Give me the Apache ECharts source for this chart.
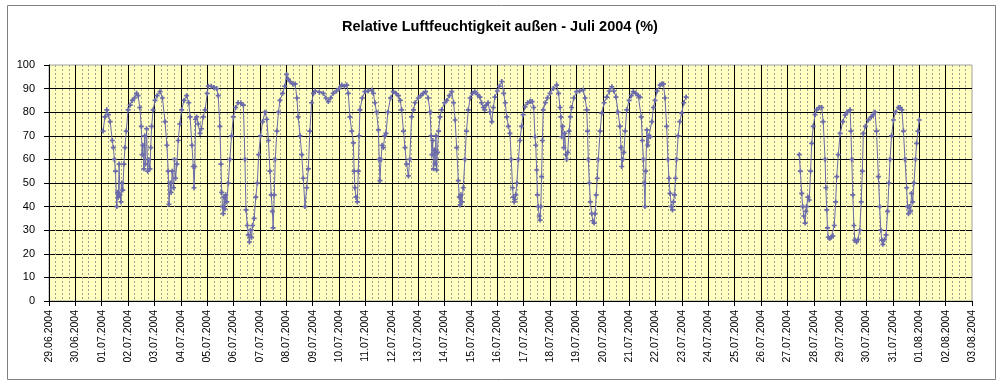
<!DOCTYPE html>
<html>
<head>
<meta charset="utf-8">
<script src="https://cdn.jsdelivr.net/npm/echarts@6/dist/echarts.min.js"></script>
<style>
html,body{margin:0;padding:0;background:#fff;}
#chart{width:1000px;height:382px;}
</style>
</head>
<body>
<div id="chart"></div>
<script>
// Hours since 29.06.2004 00:00
const hours = [
49.2,50.9,52.6,54,55.7,57.6,58.6,59.5,60.5,61.7,62.4,63.1,63.8,64.6,65.5,66.2,67.2,68.2,69.1,70.3,
72,73.9,75.8,77.8,79.7,81.1,82.6,84,84.7,85.4,86.4,87.1,87.8,88.8,89.8,90.7,91.9,92.6,93.4,94.8,
96.5,98.4,101,103.2,105.6,107.3,108.5,109.2,110.4,111.1,112.1,113.3,114.2,115.2,116.4,117.6,119,
120.7,122.9,125.3,127.2,128.4,130.1,131.3,132,132.7,133.4,134.4,135.8,137.5,138.7,140.4,142.1,
144,145,147.6,150,152.6,154,155.5,156.5,157.2,157.9,158.6,159.4,160.1,160.8,161.8,163.2,164.6,166.1,167.8,
169.9,172.1,174.5,176.9,178.3,179.3,180.5,181.4,182.4,183.4,184.3,185.3,186.7,188.2,189.6,190.8,
192.5,194.4,196.6,198.2,199.7,201.1,202.3,203.3,204,205,205.9,207.4,208.8,210.2,212.6,214.6,
216.2,217.7,219.4,221.8,224,225.6,226.8,228.5,230,231.4,233,234.5,236,237.4,239,
240.7,242.2,246,249.6,252,254.2,256.3,258.7,261.6,
264,266.4,268.8,271,272.4,273.8,275.5,277,277.7,278.4,279.4,280.6,281.5,282.2,283,285.1,287.5,
290.4,293.8,295.2,296.6,298.1,299.8,300.5,301.2,302.2,303.1,304.3,305.5,306.7,308.4,310.8,
313.4,315.8,318,319.7,320.9,322.6,324,325.4,327.1,328.3,330,331.7,333.1,
336,338.4,340.6,342.7,345.1,346.8,347.8,348.5,349.2,349.9,350.6,351.4,352.1,352.8,353.5,354.5,355.9,357.4,
360,362,364.3,366.5,368.2,369.6,371,372.5,373.4,374.2,374.9,375.8,377,378.5,379.9,381.6,383.3,
385.4,387.6,390,392.2,393.6,395.3,396.5,397.9,399.6,401.3,403,404.4,405.8,
408,409.9,412.1,413.8,415.2,416.6,418.1,419.5,420.7,421.9,422.6,423.4,424.1,424.8,425.8,427.2,428.6,430.1,431.5,
433.2,435.6,437.8,439.7,441.1,442.3,443,443.8,444.5,445.2,446.2,446.9,447.6,448.3,449,449.8,451.7,453.6,
456,458.9,462,463.7,465.1,465.8,466.6,467.5,468.5,469.4,470.4,471.1,472.1,473.3,474.5,475.7,477.6,
480.2,482.9,486.2,487.9,489.4,490.1,490.8,491.8,492.7,493.9,494.9,496.1,497,498,499,499.9,501.6,503,
505.2,507.6,510,512.2,514.1,516,517.9,519.6,520.6,521.3,522.2,523.2,524.4,525.8,
528,529.9,531.8,534,536.2,537.8,539,540,541,541.7,542.4,543.1,544.1,545,546,547.2,548.6,550.1,551.5,
553.4,556.1,557.8,559.2,560.6,562.1,563.3,564.2,565.2,566.4,567.4,568.3,569.3,570.2,571.2,572.6,574.1,575.8,
577.7,579.8,
600,
682.8,683.8,685,685.9,686.9,688.1,688.8,689.5,690.7,691.9,693.1,694.1,695.5,
697.2,698.6,700.8,703.2,704.6,706.3,707,707.8,708.5,709.2,710.4,711.8,713.3,714.7,715.9,716.9,718.3,
720,722.4,724.6,726.7,729.1,729.8,730.6,731.5,732.5,733.4,734.9,736.3,737.8,739.2,740.2,741.1,743,
745.7,748.3,750.2,751.7,753.1,754.8,756,757,757.9,758.9,760.3,761.8,763.2,764.4,765.4,766.8,
768.5,770.4,773,774.7,776.2,777.6,779,780.5,781.4,782.2,783.1,784.1,785,786,787.2,788.6,789.6,790.8,792
];
// Relative humidity (%); null marks the gap without measurements
const humidity = [
72,78,81,79,76,68,65,60,55,40,46,44,58,45,42,50,47,58,65,72,
81,83,85,86,88,87,82,74,62,66,56,70,58,73,55,60,56,65,74,81,
85,87,88.7,86,76,66,55,41,50,46,55,48,60,52,58,68,75,
81,85,87,84,78,66,57,48,57,77,78,75,71,73,78,81,
88,91,91,90.5,90,87,74,58,46,40,37,44,39,45,42,50,60,70,78,
82,84,84,83,60,38.6,32,28,25,30,27,32,35,44,50,62,
70,76,80,77,68,55,45,38,31,45,60,72,80,85,88,91,
96,94,93,92,92,86,78,70,62,52,40,48,56,72,84,
88,89,88.5,88,86,84.5,86,88,89,
90,91.5,91,91.5,88,78,72,67,55,48,44,42,55,70,81,86,88.7,
89,89.4,88,84,80,72.5,60,51,60,66,65,70,71,80,86,
88.7,88,87,85,81,72,65,58,53,60,78,81,84,
86,87,88,88.7,86,80,70,62,68,56,64,58,70,55.5,63,72,78,81,
84,85,87,88.7,84,76.7,65,51,44,40.7,45,42,48,60,72,81,86,
88,88.7,87.5,86.4,84,82,81,83,84,80,76,82,86.4,
89,91,93,88,84,78,74,71,60,48,44,42,43,45,50,60,68,74,79,
82.3,84,84.5,84.5,82,69.6,66,55.5,45,40,36,34.3,40,52.7,68,81,84,86,
88,90,91.5,88,82,78,69.6,74,65,71,62,60,63,72,78,82,86,
88.7,89,89.4,86,81,72,60,50,42,37,34,33,37,45,52,60,72,79.6,
84,86.4,89,90.8,89,86.4,80,74,65,57,60,63,72,81,
85,87,88.7,88,87,86.4,78,68,60,50,40,55,72.5,66,70,69.6,76,82,85,
89,91.5,92,92,86,74,60,52,45.6,40,38.6,42,45,52,60,70,76,79.6,
84,86.4,
null,
62,55,45.6,40,36,33,38,40,44,42.8,55,66.8,74,
79,81,82,82,76,60,48,38.6,31,27,26.5,27,27.5,32,42,52.7,62,
71,76,78.8,80,81,72,60,45,32,25.8,25,26,30,42,55,71,74,
76.7,78,79,80,72,52.7,40,30,25.8,24,26,28,38,50,60,70,
76.7,80,82,82,81,72,60,48,40,37,40,38,45.6,42,50,60,66.8,72,76.7
];
const dateLabels = [
'29.06.2004','30.06.2004','01.07.2004','02.07.2004','03.07.2004','04.07.2004','05.07.2004',
'06.07.2004','07.07.2004','08.07.2004','09.07.2004','10.07.2004','11.07.2004','12.07.2004',
'13.07.2004','14.07.2004','15.07.2004','16.07.2004','17.07.2004','18.07.2004','19.07.2004',
'20.07.2004','21.07.2004','22.07.2004','23.07.2004','24.07.2004','25.07.2004','26.07.2004',
'27.07.2004','28.07.2004','29.07.2004','30.07.2004','31.07.2004','01.08.2004','02.08.2004','03.08.2004'
];
const yTicks = [0,10,20,30,40,50,60,70,80,90,100];
const titleText = 'Relative Luftfeuchtigkeit außen - Juli 2004 (%)';

const seriesData = hours.map((h, i) => [h, humidity[i] === null ? '-' : humidity[i]]);

const chart = echarts.init(document.getElementById('chart'), null, {renderer: 'canvas'});
chart.setOption({
  animation: false,
  backgroundColor: '#ffffff',
  title: {
    text: titleText,
    left: 'center',
    top: 14,
    textStyle: {fontFamily: 'Liberation Sans, Arial', fontWeight: 'bold', fontSize: 14.5, color: '#000'}
  },
  graphic: [{
    type: 'rect', left: 5, top: 3, silent: true,
    shape: {width: 988, height: 374},
    style: {fill: 'none', stroke: '#808080', lineWidth: 1}
  }],
  grid: {
    left: 49, right: 28, top: 65, bottom: 81,
    show: true, backgroundColor: '#FFFFC2', borderColor: '#A0A0A0', borderWidth: 1
  },
  xAxis: {
    type: 'value', min: 0, max: 840, interval: 24,
    axisLine: {show: true, onZero: false, lineStyle: {color: '#000', width: 1}},
    axisTick: {show: true, length: 5, lineStyle: {color: '#000'}},
    axisLabel: {
      rotate: 90, margin: 9, fontSize: 10.5, color: '#000', fontFamily: 'Liberation Sans, Arial',
      showMaxLabel: true, showMinLabel: true,
      formatter: v => dateLabels[Math.round(v / 24)]
    },
    splitLine: {show: true, showMaxLine: false, lineStyle: {color: '#000', width: 1}},
    minorTick: {show: false, splitNumber: 4},
    minorSplitLine: {show: true, lineStyle: {color: '#a0a090', width: 1, type: [2, 2]}}
  },
  yAxis: {
    type: 'value', min: yTicks[0], max: yTicks[yTicks.length - 1], interval: 10,
    axisLine: {show: true, lineStyle: {color: '#000', width: 1}},
    axisTick: {show: true, length: 5, lineStyle: {color: '#000'}},
    axisLabel: {margin: 14, fontSize: 11, color: '#000', fontFamily: 'Liberation Sans, Arial'},
    splitLine: {show: true, showMaxLine: false, lineStyle: {color: '#000', width: 1}}
  },
  series: [{
    type: 'line',
    data: seriesData,
    connectNulls: false,
    showAllSymbol: true,
    symbol: 'path://M1,0H2V1H3V2H2V3H1V2H0V1H1Z',
    symbolSize: 5,
    itemStyle: {color: '#6a6aaa'},
    lineStyle: {color: '#6a6aaa', width: 1}
  }]
});
</script>
</body>
</html>
